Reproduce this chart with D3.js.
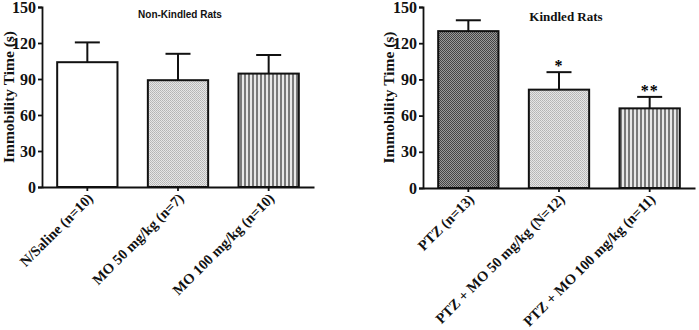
<!DOCTYPE html>
<head>
  <title>Immobility Time</title>
  <meta charset="utf-8">
  <script type="text/javascript" src="https://cdn.jsdelivr.net/npm/d3@7/dist/d3.min.js"></script>
  <style>
    body { margin: 0; background: #fff; }
  </style>
</head>
<body>
<script>
  var yTicks = [0, 30, 60, 90, 120, 150];

  var leftGroups = ["N/Saline (n=10)", "MO 50 mg/kg (n=7)", "MO 100 mg/kg (n=10)"];
  var leftMeans = [104, 89, 94.5];
  var leftSem = [16.5, 22, 15.5];
  var leftFills = ["white", "url(#lightDots)", "url(#stripes)"];
  var leftStars = ["", "", ""];

  var rightGroups = ["PTZ (n=13)", "PTZ + MO 50 mg/kg (N=12)", "PTZ + MO 100 mg/kg (n=11)"];
  var rightMeans = [130, 81.5, 66];
  var rightSem = [9, 14.5, 9.5];
  var rightFills = ["url(#darkChecks)", "url(#lightDots)", "url(#stripes)"];
  var rightStars = ["", "*", "**"];

  var serif = "'Liberation Serif', 'Times New Roman', serif";
  var sans = "'Liberation Sans', Arial, sans-serif";

  var svg = d3.select("body")
    .append("svg")
    .attr("width", 699)
    .attr("height", 330);

  // fill patterns
  var defs = svg.append("defs");

  var p1 = defs.append("pattern").attr("id", "lightDots")
    .attr("patternUnits", "userSpaceOnUse").attr("width", 2).attr("height", 2);
  p1.append("rect").attr("width", 2).attr("height", 2).attr("fill", "#e6e6e6");
  p1.append("rect").attr("width", 1).attr("height", 1).attr("fill", "#b4b4b4");
  p1.append("rect").attr("x", 1).attr("y", 1).attr("width", 1).attr("height", 1).attr("fill", "#bdbdbd");

  var p2 = defs.append("pattern").attr("id", "stripes")
    .attr("patternUnits", "userSpaceOnUse").attr("width", 4).attr("height", 4);
  p2.append("rect").attr("width", 4).attr("height", 4).attr("fill", "#e8e8e8");
  p2.append("rect").attr("width", 2).attr("height", 4).attr("fill", "#7a7a7a");

  var p3 = defs.append("pattern").attr("id", "darkChecks")
    .attr("patternUnits", "userSpaceOnUse").attr("width", 2).attr("height", 2);
  p3.append("rect").attr("width", 2).attr("height", 2).attr("fill", "#9a9a9a");
  p3.append("rect").attr("width", 1).attr("height", 1).attr("fill", "#444");
  p3.append("rect").attr("x", 1).attr("y", 1).attr("width", 1).attr("height", 1).attr("fill", "#444");

  function drawPanel(opts) {
    var g = svg.append("g");

    var x = d3.scaleBand()
      .domain(opts.groups)
      .range([opts.x0, opts.x1])
      .paddingInner(0.335)
      .paddingOuter(0.1675);

    var y = d3.scaleLinear()
      .domain([0, 150])
      .range([opts.y0, 7]);

    var data = opts.groups.map(function(d, i) {
      return { name: d, mean: opts.means[i], sem: opts.sem[i], fill: opts.fills[i], star: opts.stars[i] };
    });

    // bars
    g.selectAll("rect.bar")
      .data(data)
      .enter()
      .append("rect")
      .attr("class", "bar")
      .attr("x", function(d) { return x(d.name); })
      .attr("y", function(d) { return y(d.mean); })
      .attr("width", x.bandwidth())
      .attr("height", function(d) { return y(0) - y(d.mean); })
      .attr("fill", function(d) { return d.fill; })
      .attr("stroke", "#111")
      .attr("stroke-width", 2);

    // error bars
    var cap = 12.5;
    data.forEach(function(d) {
      var cx = x(d.name) + x.bandwidth() / 2;
      g.append("line")
        .attr("x1", cx).attr("x2", cx)
        .attr("y1", y(d.mean)).attr("y2", y(d.mean + d.sem))
        .attr("stroke", "#111").attr("stroke-width", 2);
      g.append("line")
        .attr("x1", cx - cap).attr("x2", cx + cap)
        .attr("y1", y(d.mean + d.sem)).attr("y2", y(d.mean + d.sem))
        .attr("stroke", "#111").attr("stroke-width", 2);
      if (d.star) {
        g.append("text")
          .attr("x", cx)
          .attr("y", y(d.mean + d.sem) - 1)
          .attr("text-anchor", "middle")
          .style("font-family", serif)
          .style("font-weight", "bold")
          .style("font-size", "16px")
          .style("letter-spacing", "1px")
          .text(d.star);
      }
    });

    // y axis
    var yAxis = g.append("g")
      .attr("transform", "translate(" + opts.x0 + ",0)")
      .call(d3.axisLeft(y).tickValues(yTicks).tickSize(4).tickPadding(2));
    yAxis.selectAll("path, line").attr("stroke", "#111").attr("stroke-width", 1.8);
    yAxis.selectAll("text")
      .attr("fill", "#111")
      .style("font-family", serif)
      .style("font-size", "16px")
      .style("font-weight", "bold");

    // x axis
    var xAxis = g.append("g")
      .attr("transform", "translate(0," + opts.y0 + ")")
      .call(d3.axisBottom(x).tickSize(4).tickSizeOuter(0));
    xAxis.selectAll("path, line").attr("stroke", "#111").attr("stroke-width", 1.8);
    xAxis.selectAll("text")
      .attr("fill", "#111")
      .style("font-family", serif)
      .style("font-size", "14.5px")
      .style("font-weight", "bold")
      .attr("text-anchor", "end")
      .attr("dy", "0.35em")
      .attr("transform", "translate(3,3) rotate(-45)")
      .attr("x", -4)
      .attr("y", 4);

    // y label
    g.append("text")
      .attr("transform", "translate(" + opts.labelX + "," + (opts.y0 + 7) / 2 + ") rotate(-90)")
      .attr("text-anchor", "middle")
      .attr("fill", "#111")
      .style("font-family", serif)
      .style("font-weight", "bold")
      .style("font-size", "15.5px")
      .text("Immobility Time (s)");

    // title
    g.append("text")
      .attr("x", opts.titleX)
      .attr("y", opts.titleY)
      .attr("text-anchor", "middle")
      .attr("fill", "#111")
      .style("font-family", opts.titleFont)
      .style("font-weight", "bold")
      .style("font-size", opts.titleSize)
      .text(opts.title);
  }

  drawPanel({
    groups: leftGroups, means: leftMeans, sem: leftSem, fills: leftFills, stars: leftStars,
    x0: 42, x1: 314, y0: 187, labelX: 14,
    title: "Non-Kindled Rats", titleX: 180, titleY: 18,
    titleFont: sans, titleSize: "10px"
  });

  drawPanel({
    groups: rightGroups, means: rightMeans, sem: rightSem, fills: rightFills, stars: rightStars,
    x0: 423, x1: 695, y0: 188, labelX: 394,
    title: "Kindled Rats", titleX: 566, titleY: 21,
    titleFont: serif, titleSize: "13px"
  });
</script>
</body>
